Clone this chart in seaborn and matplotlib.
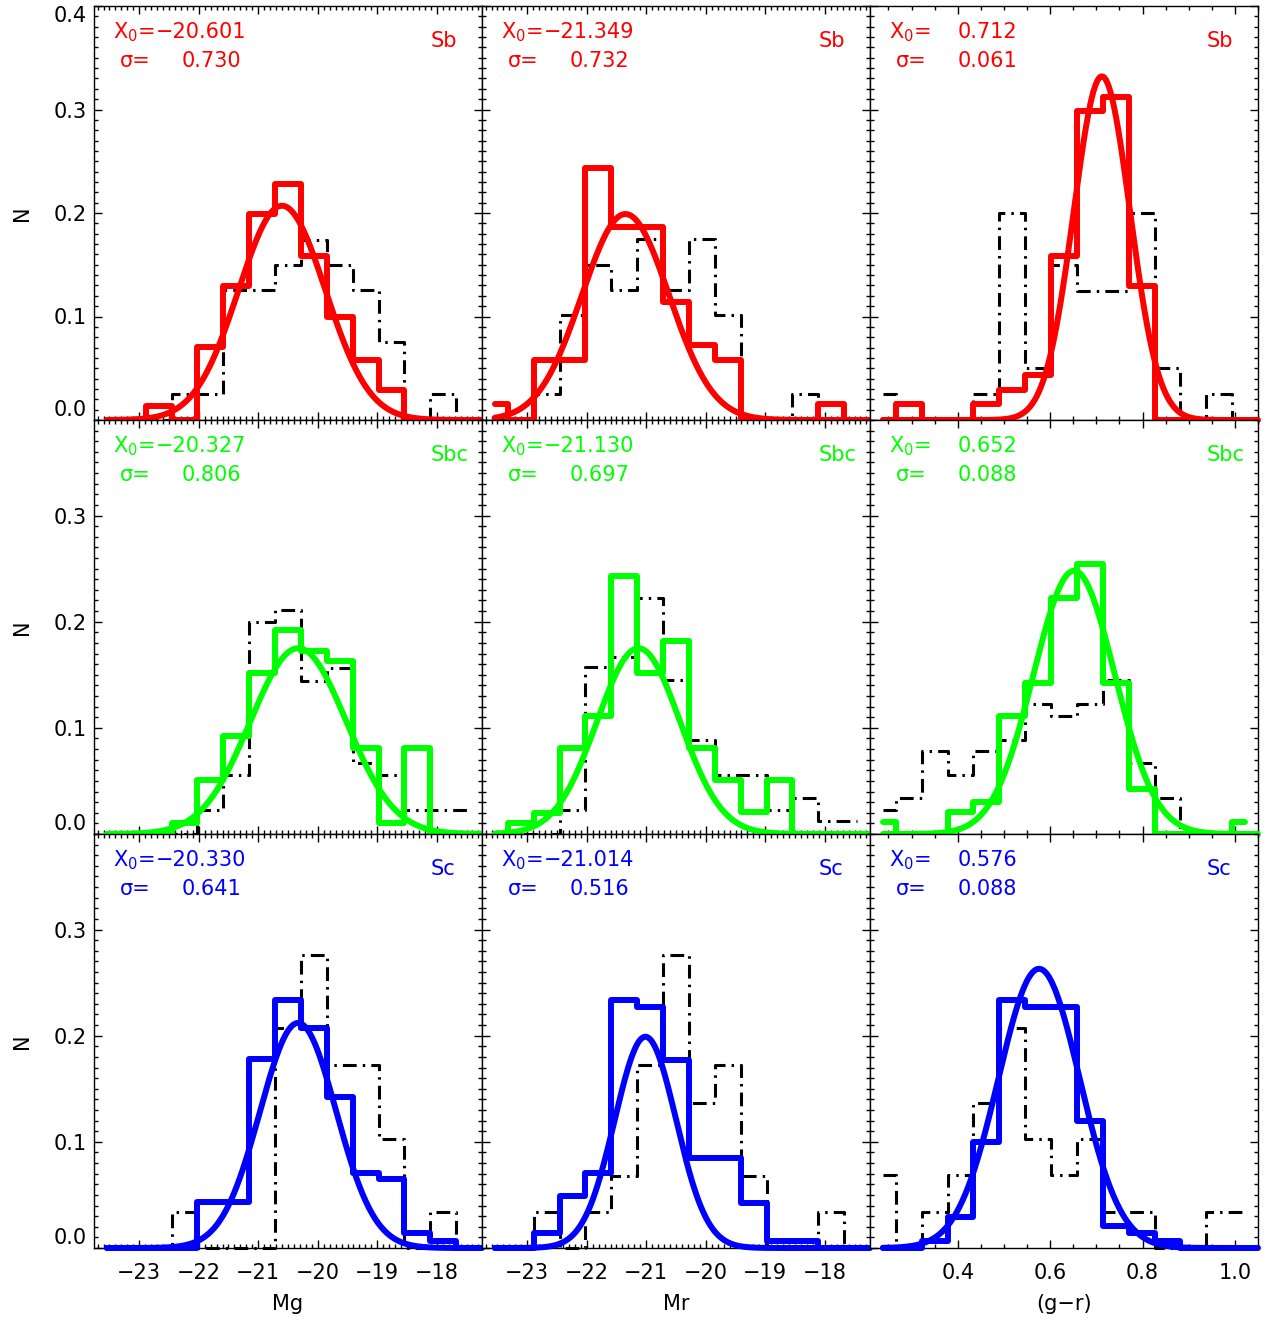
import numpy as np
import pandas as pd
import matplotlib
matplotlib.use('Agg')
import matplotlib.pyplot as plt
import seaborn as sns
from matplotlib.ticker import MultipleLocator

sns.set_style('ticks')
plt.rcParams['font.family'] = ['DejaVu Sans']
plt.rcParams['axes.unicode_minus'] = True

# ---------------------------------------------------------------------------
# Data (fractions per bin, 15 bins spanning each panel's x range)
# ---------------------------------------------------------------------------
types = ['Sb', 'Sbc', 'Sc']
type_colors = ['#ff0000', '#00ff00', '#0000ff']
columns = ['Mg', 'Mr', '(g\u2212r)']

mag_range = (-23.76, -17.24)
color_range = (0.21, 1.05)

# Sb
sb_mg_hist = [0, 0, 0.014, 0, 0.071, 0.129, 0.199, 0.228, 0.158, 0.100, 0.058, 0.029, 0, 0, 0]
sb_mg_all = [0, 0, 0, 0.025, 0.025, 0.126, 0.126, 0.150, 0.174, 0.150, 0.126, 0.075, 0, 0.025, 0]
sb_mr_hist = [0.015, 0, 0.058, 0.058, 0.243, 0.186, 0.186, 0.114, 0.072, 0.058, 0, 0, 0, 0.015, 0]
sb_mr_all = [0, 0, 0.025, 0.101, 0.150, 0.126, 0.175, 0.126, 0.175, 0.101, 0, 0, 0.025, 0, 0]
sb_gr_hist = [0, 0.015, 0, 0, 0.015, 0.029, 0.043, 0.158, 0.299, 0.312, 0.129, 0, 0, 0, 0]
sb_gr_all = [0.025, 0, 0, 0, 0.025, 0.200, 0.050, 0.150, 0.125, 0.125, 0.200, 0.050, 0, 0.025, 0]

# Sbc
sbc_mg_hist = [0, 0, 0, 0.010, 0.051, 0.092, 0.152, 0.192, 0.172, 0.163, 0.081, 0.010, 0.081, 0, 0]
sbc_mg_all = [0, 0, 0, 0, 0.023, 0.056, 0.200, 0.211, 0.144, 0.156, 0.067, 0.056, 0.023, 0.023, 0.023]
sbc_mr_hist = [0, 0.010, 0.020, 0.081, 0.111, 0.243, 0.152, 0.182, 0.081, 0.051, 0.021, 0.051, 0, 0, 0]
sbc_mr_all = [0, 0, 0, 0.023, 0.157, 0.167, 0.222, 0.145, 0.089, 0.056, 0.056, 0.023, 0.034, 0.012, 0.012]
sbc_gr_hist = [0.011, 0, 0, 0.021, 0.030, 0.111, 0.142, 0.222, 0.254, 0.142, 0.042, 0, 0, 0, 0.011]
sbc_gr_all = [0.023, 0.034, 0.078, 0.056, 0.078, 0.089, 0.122, 0.111, 0.122, 0.145, 0.067, 0.034, 0, 0, 0.011]

# Sc
sc_mg_hist = [0, 0, 0, 0, 0.043, 0.043, 0.178, 0.234, 0.207, 0.142, 0.071, 0.065, 0.014, 0.007, 0]
sc_mg_all = [0, 0, 0, 0.034, 0, 0, 0, 0.207, 0.276, 0.172, 0.172, 0.103, 0, 0.034, 0]
sc_mr_hist = [0, 0, 0.014, 0.049, 0.071, 0.234, 0.227, 0.177, 0.085, 0.085, 0.042, 0.007, 0.007, 0, 0]
sc_mr_all = [0, 0, 0.034, 0, 0.034, 0.068, 0.172, 0.276, 0.137, 0.172, 0.068, 0, 0, 0.034, 0]
sc_gr_hist = [0, 0, 0.007, 0.029, 0.100, 0.234, 0.227, 0.227, 0.120, 0.021, 0.014, 0.007, 0, 0, 0]
sc_gr_all = [0.069, 0, 0.034, 0.069, 0.137, 0.207, 0.103, 0.069, 0.103, 0.034, 0.034, 0, 0, 0.034, 0.034]

# Gaussian fits: (X0, sigma, peak height)
sb_fits = [(-20.601, 0.730, 0.207), (-21.349, 0.732, 0.199), (0.712, 0.061, 0.332)]
sbc_fits = [(-20.327, 0.806, 0.175), (-21.130, 0.697, 0.175), (0.652, 0.088, 0.248)]
sc_fits = [(-20.330, 0.641, 0.212), (-21.014, 0.516, 0.199), (0.576, 0.088, 0.263)]

hists = [[sb_mg_hist, sb_mr_hist, sb_gr_hist],
         [sbc_mg_hist, sbc_mr_hist, sbc_gr_hist],
         [sc_mg_hist, sc_mr_hist, sc_gr_hist]]
alls = [[sb_mg_all, sb_mr_all, sb_gr_all],
        [sbc_mg_all, sbc_mr_all, sbc_gr_all],
        [sc_mg_all, sc_mr_all, sc_gr_all]]
fits = [sb_fits, sbc_fits, sc_fits]
row_ymax = [0.4, 0.39, 0.39]

# ---------------------------------------------------------------------------
W, H = 1270, 1322
fig = plt.figure(figsize=(W / 100, H / 100), dpi=100)
gs = fig.add_gridspec(3, 3, left=94 / W, right=1258 / W, top=1 - 6 / H,
                      bottom=1 - 1248 / H, hspace=0, wspace=0)

for r in range(3):
    col = type_colors[r]
    for c in range(3):
        ax = fig.add_subplot(gs[r, c])
        xr = mag_range if c < 2 else color_range
        edges = np.linspace(xr[0], xr[1], 16)
        centers = 0.5 * (edges[:-1] + edges[1:])

        # all galaxies (black dash-dot)
        df_all = pd.DataFrame({'x': centers, 'y': alls[r][c]})
        sns.lineplot(data=df_all, x='x', y='y', ax=ax, color='black', lw=2.2,
                     drawstyle='steps-mid', linestyle=(0, (4.5, 2.0, 0.8, 2.0)),
                     estimator=None, errorbar=None, clip_on=False, zorder=2)

        # type histogram
        df_h = pd.DataFrame({'x': centers, 'y': hists[r][c]})
        sns.lineplot(data=df_h, x='x', y='y', ax=ax, color=col, lw=4.3,
                     drawstyle='steps-mid', estimator=None, errorbar=None,
                     clip_on=False, zorder=3)

        # gaussian fit
        x0, sig, amp = fits[r][c]
        xs = np.linspace(centers[0], xr[1], 500)
        ys = amp * np.exp(-0.5 * ((xs - x0) / sig) ** 2)
        sns.lineplot(x=xs, y=ys, ax=ax, color=col, lw=4.3, estimator=None,
                     errorbar=None, clip_on=False, zorder=4)

        ax.set_xlim(*xr)
        ax.set_ylim(0, row_ymax[r])

        # ticks
        if c < 2:
            ax.set_xticks([-23, -22, -21, -20, -19, -18])
            ax.xaxis.set_minor_locator(MultipleLocator(0.1))
        else:
            ax.set_xticks([0.4, 0.6, 0.8, 1.0])
            ax.xaxis.set_minor_locator(MultipleLocator(0.05))
        yt = [0.0, 0.1, 0.2, 0.3, 0.4] if r == 0 else [0.0, 0.1, 0.2, 0.3]
        ax.set_yticks(yt, [f'{v:.1f}' for v in yt])
        ax.yaxis.set_minor_locator(MultipleLocator(0.01))
        ax.tick_params(which='both', direction='in', top=True, right=True,
                       color='black', width=1.0, labelsize=15,
                       labelcolor='black')
        ax.tick_params(which='major', length=5.5)
        ax.tick_params(which='minor', length=3)
        ax.tick_params(axis='x', pad=11)
        ax.tick_params(axis='y', pad=5)
        for s in ax.spines.values():
            s.set_color('black')
            s.set_linewidth(1.0)

        if c == 0:
            labs = ax.get_yticklabels()
            labs[0].set_verticalalignment('bottom')
            if r == 0:
                labs[-1].set_verticalalignment('top')
            ax.set_ylabel('N', fontsize=15, labelpad=16, color='black')
        else:
            ax.tick_params(labelleft=False)
            ax.set_ylabel('')
        if r == 2:
            ax.set_xlabel(columns[c], fontsize=15, labelpad=8, color='black')
        else:
            ax.tick_params(labelbottom=False)
            ax.set_xlabel('')

        # annotations
        fs = 15
        ax.text(19 / 388, 1 - 26 / 414, 'X$_0$=', transform=ax.transAxes,
                color=col, fontsize=fs, ha='left', va='center')
        num_x = 62 / 388 if x0 < 0 else 88 / 388
        ax.text(num_x, 1 - 26 / 414, f'{x0:.3f}'.replace('-', '\u2212'),
                transform=ax.transAxes, color=col, fontsize=fs,
                ha='left', va='center')
        ax.text(26 / 388, 1 - 55 / 414, '\u03c3=', transform=ax.transAxes,
                color=col, fontsize=fs, ha='left', va='center')
        ax.text(88 / 388, 1 - 55 / 414, f'{sig:.3f}', transform=ax.transAxes,
                color=col, fontsize=fs, ha='left', va='center')
        ax.text(337 / 388, 1 - 35 / 414, types[r], transform=ax.transAxes,
                color=col, fontsize=fs, ha='left', va='center')

fig.savefig('out.png', dpi=100, facecolor='white')
